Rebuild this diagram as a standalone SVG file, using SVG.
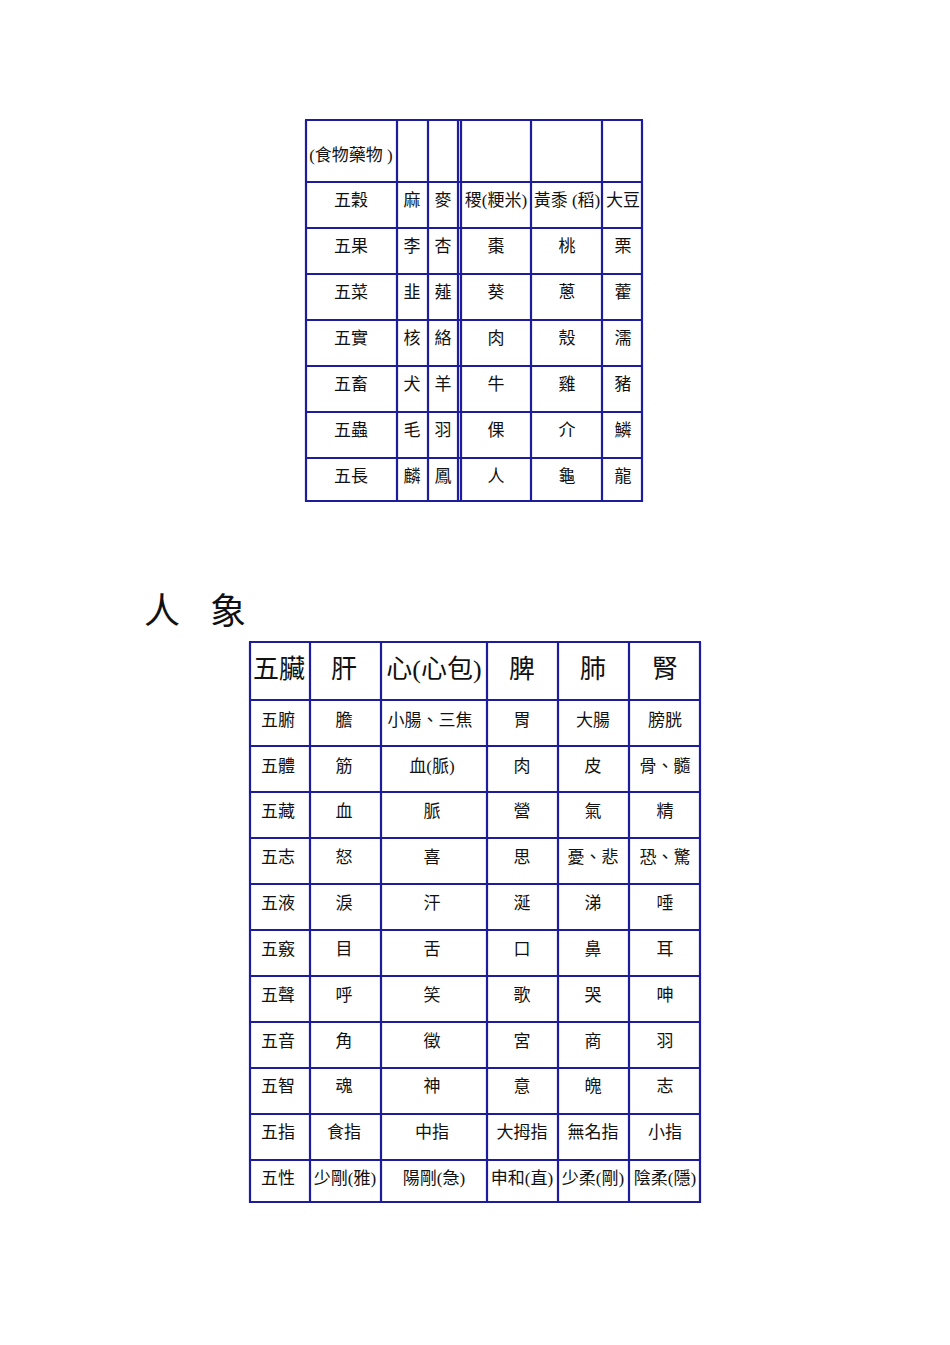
<svg xmlns="http://www.w3.org/2000/svg" width="950" height="1345" viewBox="0 0 950 1345">
<style>
.g line{stroke:#1c1c9c;stroke-width:2.2}
text{font-family:"Liberation Serif","Noto Sans CJK TC",serif;fill:#111;text-anchor:middle;dominant-baseline:central}
.s{font-size:17px}
.b{font-size:26px}
</style>
<rect width="950" height="1345" fill="#fff"/>
<g id="table1">
<g class="g">
<line x1="306" y1="120" x2="306" y2="502"/><line x1="397" y1="120" x2="397" y2="502"/><line x1="428" y1="120" x2="428" y2="502"/><line x1="458" y1="120" x2="458" y2="502"/><line x1="461" y1="120" x2="461" y2="502"/><line x1="531" y1="120" x2="531" y2="502"/><line x1="602" y1="120" x2="602" y2="502"/><line x1="642" y1="120" x2="642" y2="502"/>
<line x1="305" y1="120" x2="643" y2="120"/><line x1="305" y1="182" x2="643" y2="182"/><line x1="305" y1="228" x2="643" y2="228"/><line x1="305" y1="274" x2="643" y2="274"/><line x1="305" y1="320" x2="643" y2="320"/><line x1="305" y1="366" x2="643" y2="366"/><line x1="305" y1="412" x2="643" y2="412"/><line x1="305" y1="458" x2="643" y2="458"/><line x1="305" y1="501" x2="643" y2="501"/>
</g>
<g class="s">
<text x="351" y="155">(食物藥物 )</text>
<text x="351" y="200">五穀</text><text x="412" y="200">麻</text><text x="443" y="200">麥</text><text x="496" y="200">稷(粳米)</text><text x="567" y="200">黃黍 (稻)</text><text x="623" y="200">大豆</text>
<text x="351" y="246">五果</text><text x="412" y="246">李</text><text x="443" y="246">杏</text><text x="496" y="246">棗</text><text x="567" y="246">桃</text><text x="623" y="246">栗</text>
<text x="351" y="292">五菜</text><text x="412" y="292">韭</text><text x="443" y="292">薤</text><text x="496" y="292">葵</text><text x="567" y="292">蔥</text><text x="623" y="292">藿</text>
<text x="351" y="338">五實</text><text x="412" y="338">核</text><text x="443" y="338">絡</text><text x="496" y="338">肉</text><text x="567" y="338">殼</text><text x="623" y="338">濡</text>
<text x="351" y="384">五畜</text><text x="412" y="384">犬</text><text x="443" y="384">羊</text><text x="496" y="384">牛</text><text x="567" y="384">雞</text><text x="623" y="384">豬</text>
<text x="351" y="430">五蟲</text><text x="412" y="430">毛</text><text x="443" y="430">羽</text><text x="496" y="430">倮</text><text x="567" y="430">介</text><text x="623" y="430">鱗</text>
<text x="351" y="476">五長</text><text x="412" y="476">麟</text><text x="443" y="476">鳳</text><text x="496" y="476">人</text><text x="567" y="476">龜</text><text x="623" y="476">龍</text>
</g>
</g>
<g id="title"><text x="162" y="612" style="font-size:36px">人</text><text x="228" y="612" style="font-size:36px">象</text></g>
<g id="table2">
<g class="g">
<line x1="250" y1="642" x2="250" y2="1203"/><line x1="310" y1="642" x2="310" y2="1203"/><line x1="381" y1="642" x2="381" y2="1203"/><line x1="487" y1="642" x2="487" y2="1203"/><line x1="558" y1="642" x2="558" y2="1203"/><line x1="629" y1="642" x2="629" y2="1203"/><line x1="700" y1="642" x2="700" y2="1203"/>
<line x1="249" y1="642" x2="701" y2="642"/><line x1="249" y1="700" x2="701" y2="700"/><line x1="249" y1="746" x2="701" y2="746"/><line x1="249" y1="792" x2="701" y2="792"/><line x1="249" y1="838" x2="701" y2="838"/><line x1="249" y1="884" x2="701" y2="884"/><line x1="249" y1="930" x2="701" y2="930"/><line x1="249" y1="976" x2="701" y2="976"/><line x1="249" y1="1022" x2="701" y2="1022"/><line x1="249" y1="1068" x2="701" y2="1068"/><line x1="249" y1="1114" x2="701" y2="1114"/><line x1="249" y1="1160" x2="701" y2="1160"/><line x1="249" y1="1202" x2="701" y2="1202"/>
</g>
<g class="b">
<text x="279" y="669">五臟</text><text x="344" y="669">肝</text><text x="434" y="669">心(心包)</text><text x="522" y="669">脾</text><text x="593" y="669">肺</text><text x="665" y="669">腎</text>
</g>
<g class="s">
<text x="278" y="720">五腑</text><text x="344" y="720">膽</text><text x="430" y="720">小腸、三焦</text><text x="522" y="720">胃</text><text x="593" y="720">大腸</text><text x="665" y="720">膀胱</text>
<text x="278" y="766">五體</text><text x="344" y="766">筋</text><text x="432" y="766">血(脈)</text><text x="522" y="766">肉</text><text x="593" y="766">皮</text><text x="665" y="766">骨、髓</text>
<text x="278" y="811">五藏</text><text x="344" y="811">血</text><text x="432" y="811">脈</text><text x="522" y="811">營</text><text x="593" y="811">氣</text><text x="665" y="811">精</text>
<text x="278" y="857">五志</text><text x="344" y="857">怒</text><text x="432" y="857">喜</text><text x="522" y="857">思</text><text x="593" y="857">憂、悲</text><text x="665" y="857">恐、驚</text>
<text x="278" y="903">五液</text><text x="344" y="903">淚</text><text x="432" y="903">汗</text><text x="522" y="903">涎</text><text x="593" y="903">涕</text><text x="665" y="903">唾</text>
<text x="278" y="949">五竅</text><text x="344" y="949">目</text><text x="432" y="949">舌</text><text x="522" y="949">口</text><text x="593" y="949">鼻</text><text x="665" y="949">耳</text>
<text x="278" y="995">五聲</text><text x="344" y="995">呼</text><text x="432" y="995">笑</text><text x="522" y="995">歌</text><text x="593" y="995">哭</text><text x="665" y="995">呻</text>
<text x="278" y="1041">五音</text><text x="344" y="1041">角</text><text x="432" y="1041">徵</text><text x="522" y="1041">宮</text><text x="593" y="1041">商</text><text x="665" y="1041">羽</text>
<text x="278" y="1086">五智</text><text x="344" y="1086">魂</text><text x="432" y="1086">神</text><text x="522" y="1086">意</text><text x="593" y="1086">魄</text><text x="665" y="1086">志</text>
<text x="278" y="1132">五指</text><text x="344" y="1132">食指</text><text x="432" y="1132">中指</text><text x="522" y="1132">大拇指</text><text x="593" y="1132">無名指</text><text x="665" y="1132">小指</text>
<text x="278" y="1178">五性</text><text x="345" y="1178">少剛(雅)</text><text x="434" y="1178">陽剛(急)</text><text x="522" y="1178">申和(直)</text><text x="593" y="1178">少柔(剛)</text><text x="665" y="1178">陰柔(隱)</text>
</g>
</g>
</svg>
